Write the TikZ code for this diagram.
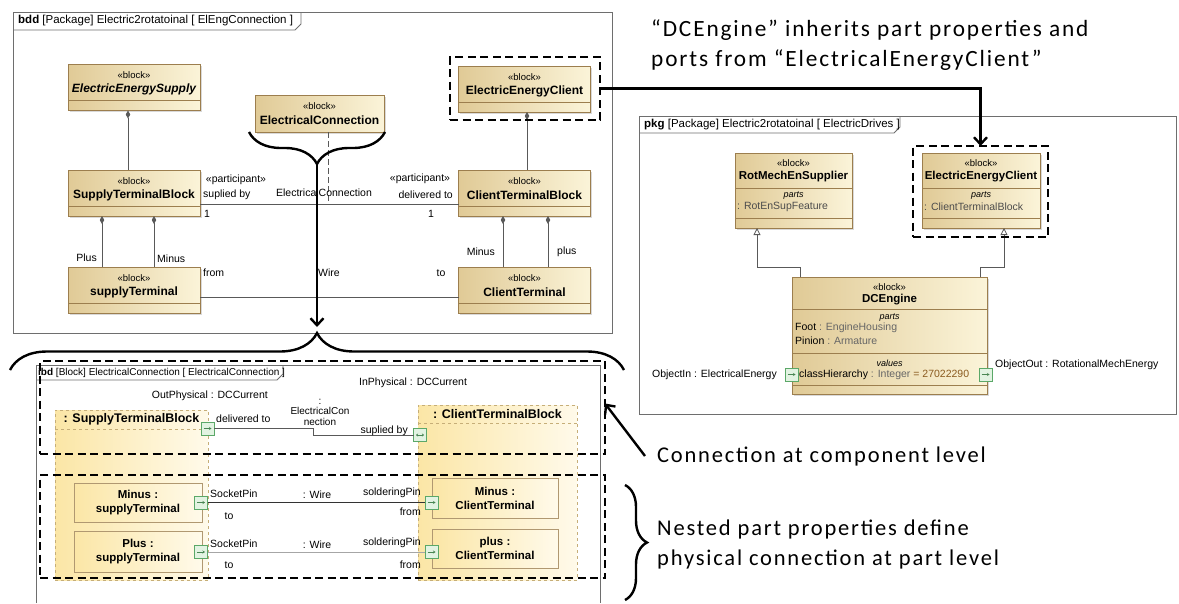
\documentclass[tikz,border=0pt]{standalone}
\usepackage{fontspec}
\setmainfont{Liberation Sans}
\newfontfamily\notefont[LetterSpace=8]{Carlito}
\usetikzlibrary{arrows.meta,decorations.pathreplacing,shadows}
\definecolor{blkdark}{HTML}{E0CA96}
\definecolor{blklight}{HTML}{FBF4D9}
\definecolor{blkline}{HTML}{9C7E4E}
\definecolor{prtdark}{HTML}{FBE6A6}
\definecolor{prtlight}{HTML}{FFFAEA}
\definecolor{prtline}{HTML}{C6AE78}
\definecolor{portline}{HTML}{5BA868}
\definecolor{portfill}{HTML}{E2F3E2}
\definecolor{frmline}{HTML}{6E6E6E}
\definecolor{valbrown}{HTML}{8A5A1E}
\tikzset{
  blk/.style={draw=blkline, line width=.8pt, left color=blkdark, right color=blklight,
    inner sep=0pt, outer sep=0pt, drop shadow={shadow xshift=1.5pt,shadow yshift=-1.5pt,opacity=.3}},
  prt/.style={draw=prtline, line width=.7pt, dashed, left color=prtdark, right color=prtlight,
    inner sep=0pt, outer sep=0pt},
  nprt/.style={draw=blkline!80, line width=.7pt, left color=prtdark, right color=prtlight,
    inner sep=0pt, outer sep=0pt, drop shadow={shadow xshift=1.2pt,shadow yshift=-1.2pt,opacity=.3}},
  portbox/.style={draw=portline, fill=portfill, line width=.7pt, minimum size=13pt, inner sep=0pt, outer sep=0pt},
  portarr/.style={draw=portline!80!black, line width=.6pt, -{Stealth[length=2.5pt,width=3pt]}},
  portarrs/.style={draw=portline!80!black, line width=.6pt, {Stealth[length=2pt,width=3pt]}-{Stealth[length=2pt,width=3pt]}},
  stereo/.style={font=\fontsize{9.5}{10}\selectfont, inner sep=0pt},
  cmptitle/.style={font=\fontsize{9}{10}\selectfont\itshape, inner sep=0pt},
  bname/.style={font=\fontsize{12}{13}\selectfont\bfseries, inner sep=0pt},
  pname/.style={font=\fontsize{11.5}{14}\selectfont\bfseries, inner sep=0pt, align=center},
  lbl/.style={font=\fontsize{10.5}{12}\selectfont, inner sep=0pt},
  tab/.style={font=\fontsize{11.5}{12}\selectfont, inner sep=0pt, anchor=west},
  cmpline/.style={draw=blkline, line width=.6pt},
  frm/.style={draw=frmline, line width=.8pt},
  assoc/.style={draw=black!65, line width=.8pt},
  compo/.style={assoc, {Diamond[length=8pt,width=4.5pt]}-},
  gen/.style={assoc, {Triangle[open,length=7pt,width=7pt]}-},
  hilite/.style={draw=black, line width=2.6pt, dash pattern=on 8pt off 4.5pt, inner sep=0pt, outer sep=0pt},
  brc/.style={decorate, line width=2.4pt},
  bigarrow/.style={line width=2.4pt, -{Straight Barb[length=7pt,width=13pt]}},
  note/.style={font=\notefont\fontsize{22.5}{30}\selectfont, inner sep=0pt, align=left, anchor=west},
}
\begin{document}
\begin{tikzpicture}[x=1pt,y=-1pt]
\useasboundingbox (0,0) rectangle (1179,603);
% bdd frame
\draw[frm] (13,12) rectangle (612,333);
\draw[frm] (13,30) -- (295,30) -- (301,24) -- (301,12);
\node[tab] (bddtab) at (18,21) {\textbf{bdd} [Package] Electric2rotatoinal [ ElEngConnection ]};
% bdd blocks
\foreach \nm/\cx/\cy/\txt in {ees/134/87.5/{\itshape ElectricEnergySupply}, eec/524.5/89/ElectricEnergyClient,
    stb/134/193/SupplyTerminalBlock, st/134/290/supplyTerminal,
    ctb/524.5/193/ClientTerminalBlock, ct/524.5/290/ClientTerminal}{
  \node[blk, minimum width=132pt, minimum height=46pt] (\nm) at (\cx,\cy) {};
  \node[stereo] at ([yshift=-11pt]\nm.north) {«block»};
  \node[bname] at ([yshift=-25pt]\nm.north) {\txt};
  \draw[cmpline] ([yshift=10pt]\nm.south west) -- ([yshift=10pt]\nm.south east);
}
\node[blk, minimum width=129pt, minimum height=37pt] (elc) at (319.5,113.5) {};
\node[stereo] at ([yshift=-11pt]elc.north) {«block»};
\node[bname] at ([yshift=-25pt]elc.north) {ElectricalConnection};
% compositions
\draw[compo] ([xshift=-6pt]ees.south) -- ([xshift=-6pt]stb.north);
\draw[compo] ([xshift=-32pt]stb.south) -- ([xshift=-32pt]st.north);
\draw[compo] ([xshift=20pt]stb.south) -- ([xshift=20pt]st.north);
\draw[compo] ([xshift=-21.5pt]ctb.south) -- ([xshift=-21.5pt]ct.north);
\draw[compo] ([xshift=23.5pt]ctb.south) -- ([xshift=23.5pt]ct.north);
\draw[compo] ([xshift=2.5pt]eec.south) -- ([xshift=2.5pt]ctb.north);
\node[lbl, anchor=east] at (97,258) {Plus};
\node[lbl, anchor=west] at (157,259) {Minus};
\node[lbl, anchor=east] at (495,252) {Minus};
\node[lbl, anchor=west] at (557,252) {plus};
% associations
\draw[assoc] ([yshift=-11pt]stb.east) -- ([yshift=-11pt]ctb.west);
\coordinate (acmid) at (328,204);
\draw[assoc, dash pattern=on 6pt off 3pt] ([xshift=8.5pt]elc.south) -- (acmid);
\draw[assoc] ([yshift=-7pt]st.east) -- ([yshift=-7pt]ct.west);
\node[lbl] at (236,180) {«participant»};
\node[lbl, anchor=west] at (203,195) {suplied by};
\node[lbl, anchor=west] at (204,214) {1};
\node[lbl] at (420,179) {«participant»};
\node[lbl, anchor=east] at (453,195) {delivered to};
\node[lbl] at (431,214) {1};
\node[lbl] at (324,193) {ElectricalConnection};
\node[lbl, anchor=west] at (203,273) {from};
\node[lbl] at (329,273) {Wire};
\node[lbl] at (441,273) {to};
% pkg frame
\draw[frm] (639,116) rectangle (1176,414);
\draw[frm] (639,133) -- (894,133) -- (900,127) -- (900,116);
\node[tab] (pkgtab) at (644,124.5) {\textbf{pkg} [Package] Electric2rotatoinal [ ElectricDrives ]};
% pkg blocks
\node[blk, minimum width=117pt, minimum height=75pt] (rmes) at (793.5,190.5) {};
\node[stereo] at ([yshift=-10pt]rmes.north) {«block»};
\node[bname, font=\fontsize{11.5}{12}\selectfont\bfseries] at ([yshift=-24pt]rmes.north) {RotMechEnSupplier};
\draw[cmpline] ([yshift=-35pt]rmes.north west) -- ([yshift=-35pt]rmes.north east);
\node[cmptitle] at ([yshift=-43pt]rmes.north) {parts};
\node[lbl, anchor=west, text=black!70] at ([xshift=2pt,yshift=-54pt]rmes.north west) {: RotEnSupFeature};
\draw[cmpline] ([yshift=10pt]rmes.south west) -- ([yshift=10pt]rmes.south east);
\node[blk, minimum width=118pt, minimum height=75pt] (eecr) at (981,190.5) {};
\node[stereo] at ([yshift=-10pt]eecr.north) {«block»};
\node[bname, font=\fontsize{11.5}{12}\selectfont\bfseries] at ([yshift=-24pt]eecr.north) {ElectricEnergyClient};
\draw[cmpline] ([yshift=-35pt]eecr.north west) -- ([yshift=-35pt]eecr.north east);
\node[cmptitle] at ([yshift=-43pt]eecr.north) {parts};
\node[lbl, anchor=west, text=black!70] at ([xshift=2pt,yshift=-54pt]eecr.north west) {: ClientTerminalBlock};
\draw[cmpline] ([yshift=10pt]eecr.south west) -- ([yshift=10pt]eecr.south east);
\node[blk, minimum width=195pt, minimum height=117pt] (dce) at (889.5,335.5) {};
\node[stereo] at ([yshift=-10pt]dce.north) {«block»};
\node[bname, font=\fontsize{11.5}{12}\selectfont\bfseries] at ([yshift=-23pt]dce.north) {DCEngine};
\draw[cmpline] ([yshift=-32pt]dce.north west) -- ([yshift=-32pt]dce.north east);
\node[cmptitle] at ([yshift=-41pt]dce.north) {parts};
\node[lbl, anchor=west] at ([xshift=3pt,yshift=-51pt]dce.north west) {Foot \textcolor{black!60}{: EngineHousing}};
\node[lbl, anchor=west] at ([xshift=3pt,yshift=-64pt]dce.north west) {Pinion \textcolor{black!60}{: Armature}};
\draw[cmpline] ([yshift=-76pt]dce.north west) -- ([yshift=-76pt]dce.north east);
\node[cmptitle] at ([yshift=-86pt]dce.north) {values};
\node[lbl, anchor=west] at ([xshift=7pt,yshift=-98pt]dce.north west) {classHierarchy \textcolor{black!60}{: Integer} \textcolor{valbrown}{= 27022290}};
\draw[cmpline] ([yshift=9pt]dce.south west) -- ([yshift=9pt]dce.south east);
% generalizations
\draw[gen] ([xshift=-36.5pt]rmes.south) |- ([xshift=-89.5pt,yshift=10pt]dce.north) -- ([xshift=-89.5pt]dce.north);
\draw[gen] ([xshift=23pt]eecr.south) |- ([xshift=91pt,yshift=10pt]dce.north) -- ([xshift=91pt]dce.north);
% pkg ports
\node[portbox] (pin) at (791.5,374.5) {};
\draw[portarr] ([xshift=-4pt]pin.center) -- ([xshift=4pt]pin.center);
\node[portbox] (pout) at (985.5,374.5) {};
\draw[portarr] ([xshift=-4pt]pout.center) -- ([xshift=4pt]pout.center);
\node[lbl, anchor=east] at (777,375) {ObjectIn : ElectricalEnergy};
\node[lbl, anchor=west] at (995,365) {ObjectOut : RotationalMechEnergy};
% ibd frame
\draw[frm] (36,603) -- (36,365) -- (600,365) -- (600,603);
\draw[frm] (36,380) -- (277,380) -- (283,374) -- (283,365);
\node[tab, font=\fontsize{10}{11}\selectfont] (ibdtab) at (38,373) {\textbf{ibd} [Block] ElectricalConnection [ ElectricalConnection ]};
% ibd parts
\node[prt, minimum width=153pt, minimum height=170pt] (stbp) at (131.5,495) {};
\draw[prt] ([yshift=-19pt]stbp.north west) -- ([yshift=-19pt]stbp.north east);
\node[bname, font=\fontsize{12.5}{13}\selectfont\bfseries] at ([yshift=-9.5pt]stbp.north) {: SupplyTerminalBlock};
\node[prt, minimum width=159pt, minimum height=175pt] (ctbp) at (497.5,492.5) {};
\draw[prt] ([yshift=-18pt]ctbp.north west) -- ([yshift=-18pt]ctbp.north east);
\node[bname, font=\fontsize{12.5}{13}\selectfont\bfseries] at ([yshift=-9pt]ctbp.north) {: ClientTerminalBlock};
\node[lbl, anchor=east] at (268,396) {OutPhysical : DCCurrent};
\node[lbl, anchor=west] at (359,383) {InPhysical : DCCurrent};
% nested parts
\node[nprt, minimum width=128pt, minimum height=39pt] (mst) at (138,502.5) {};
\node[pname] at (mst) {Minus :\\supplyTerminal};
\node[nprt, minimum width=128pt, minimum height=41pt] (pst) at (138,551.5) {};
\node[pname] at (pst) {Plus :\\supplyTerminal};
\node[nprt, minimum width=126pt, minimum height=40pt] (mct) at (495,498) {};
\node[pname] at (mct) {Minus :\\ClientTerminal};
\node[nprt, minimum width=126pt, minimum height=39pt] (pct) at (495,548.5) {};
\node[pname] at (pct) {plus :\\ClientTerminal};
% ibd ports
\node[portbox] (sp1) at (207.5,428.5) {};
\draw[portarr] ([xshift=-4pt]sp1.center) -- ([xshift=4pt]sp1.center);
\node[portbox] (cp1) at (420,435) {};
\draw[portarrs] ([xshift=-4pt]cp1.center) -- ([xshift=4pt]cp1.center);
\node[portbox] (sp2) at (201,502.5) {};
\draw[portarr] ([xshift=-4pt]sp2.center) -- ([xshift=4pt]sp2.center);
\node[portbox] (sp3) at (201,552) {};
\draw[portarr] ([xshift=-4pt]sp3.center) -- ([xshift=4pt]sp3.center);
\node[portbox] (cp2) at (431.5,502.5) {};
\draw[portarr] ([xshift=-4pt]cp2.center) -- ([xshift=4pt]cp2.center);
\node[portbox] (cp3) at (431.5,552) {};
\draw[portarr] ([xshift=-4pt]cp3.center) -- ([xshift=4pt]cp3.center);
% ibd connectors
\draw[assoc] (sp1.east) -- (313,428.5) |- (cp1.west);
\draw[assoc, draw=black!80] (sp2.east) -- (cp2.west);
\draw[assoc, draw=black!35] (sp3.east) -- (cp3.west);
\node[lbl, anchor=west] at (216,419) {delivered to};
\node[lbl, align=center, font=\fontsize{10}{10.5}\selectfont] at (320,412) {:\\ElectricalCon\\nection};
\node[lbl, anchor=east] at (408,431) {suplied by};
\node[lbl, anchor=west] at (210,494) {SocketPin};
\node[lbl] at (229,516) {to};
\node[lbl] at (317,495) {: Wire};
\node[lbl, anchor=east] at (421,493) {solderingPin};
\node[lbl, anchor=east] at (421,512) {from};
\node[lbl, anchor=west] at (210,544) {SocketPin};
\node[lbl] at (229,565) {to};
\node[lbl] at (317,545) {: Wire};
\node[lbl, anchor=east] at (421,543) {solderingPin};
\node[lbl, anchor=east] at (421,565) {from};
% dashed highlights
\node[hilite, minimum width=150pt, minimum height=63pt] (hlclient) at (525,88.5) {};
\node[hilite, minimum width=135pt, minimum height=91pt] (hlright) at (980.5,191.5) {};
\node[hilite, minimum width=565pt, minimum height=93pt] (hlcomp) at (322.5,407.5) {};
\node[hilite, minimum width=565pt, minimum height=103pt] (hlpart) at (322.5,526.5) {};
% braces and arrows
\draw[brc, decoration={brace, amplitude=32pt}] (385,132) -- (249,132);
\coordinate (brtip) at (317,164);
\coordinate (brend) at (317,327);
\draw[bigarrow] (brtip) -- (brend);
\draw[brc, decoration={brace, amplitude=37pt}] (10,370) -- (624,370);
\draw[brc, decoration={brace, amplitude=22pt}] (625,485) -- (625,600);
\draw[bigarrow] (hlclient.east) -| (hlright.north);
% notes
\node[note, font=\notefont\fontsize{23.3}{30}\selectfont] (ninherit) at (651,45) {“DCEngine” inherits part properties and\\ports from “ElectricalEnergyClient”};
\node[note] (ncomp) at (657,456) {Connection at component level};
\node[note] (npart) at (657,544) {Nested part properties define\\physical connection at part level};
\draw[bigarrow] ([xshift=-12pt]ncomp.west) -- ([yshift=4pt]hlcomp.east);
\end{tikzpicture}
\end{document}
